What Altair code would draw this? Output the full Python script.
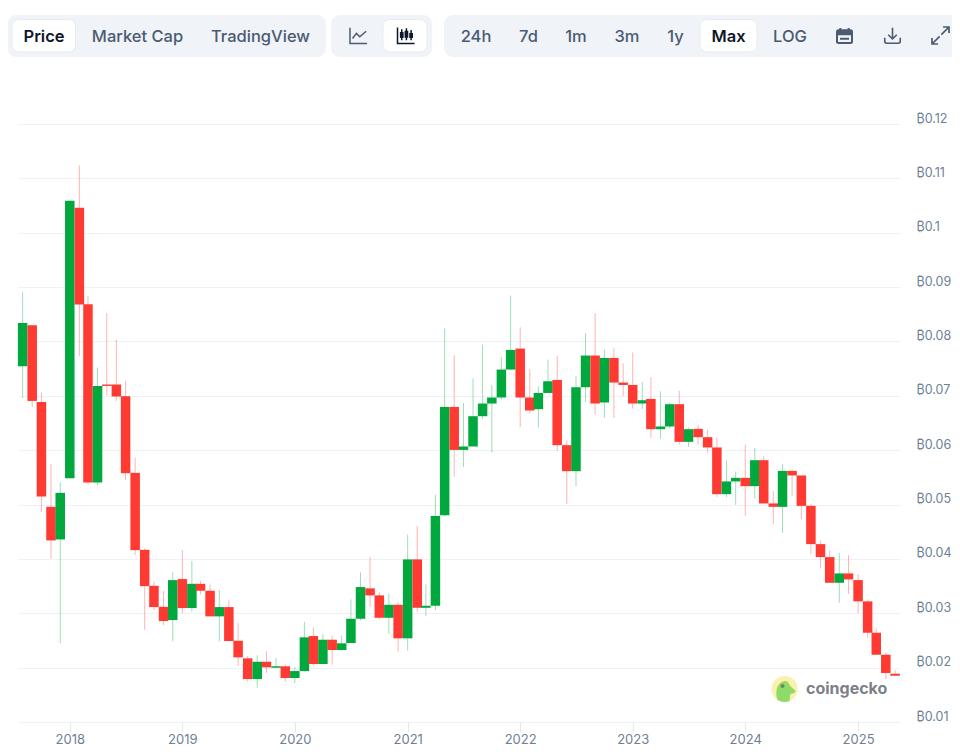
import altair as alt
import pandas as pd

months = pd.date_range("2017-08-01", periods=94, freq="MS").strftime("%Y-%m-%d").tolist()

open_ = [.07544,.08298,.06888,.04958,.04358,.05485,.10461,.08684,.05406,.07208,.07208,.06993,.05583,.04167,.03505,.03119,
         .02875,.03629,.03096,.03542,.03414,.02943,.03114,.02494,.02171,.01790,.02108,.01998,.02024,.01809,.01937,.02581,
         .02066,.02513,.02324,.02452,.02899,.03458,.03329,.02917,.03156,.02539,.03991,.03101,.03138,.04805,.06796,.06005,
         .06068,.06625,.06858,.06969,.07483,.07869,.06969,.06754,.07053,.07292,.06092,.05614,.07158,.07741,.06877,.07697,
         .07244,.07200,.06858,.06943,.06386,.06436,.06846,.06153,.06392,.06239,.06050,.05191,.05425,.05491,.05338,.05816,
         .05020,.04958,.05619,.05535,.04976,.04272,.04033,.03561,.03733,.03610,.03219,.02642,.02237,.01888]
high = [.08904,.08298,.07061,.05743,.05406,.10590,.11239,.08844,.07520,.08518,.08035,.07268,.05866,.04193,.03586,.03408,
        .03757,.04162,.03960,.03597,.03531,.03426,.03237,.02825,.02213,.02226,.02300,.02182,.02061,.02017,.02844,.02741,
        .02618,.02586,.02586,.03255,.03752,.04039,.03384,.03358,.03206,.04450,.04603,.03531,.05178,.08237,.07746,.06869,
        .07318,.07943,.07195,.07709,.08844,.08261,.07489,.07176,.07667,.07728,.06178,.07360,.08151,.08518,.07851,.07875,
        .07599,.07796,.07255,.07342,.07084,.06877,.07090,.06417,.06465,.06380,.06233,.05811,.05608,.06105,.06042,.05890,
        .05246,.05743,.05651,.05535,.05007,.04340,.04149,.04112,.04070,.03721,.03255,.02722,.02274,.01956]
low = [.06961,.06796,.04866,.04002,.02447,.05485,.07733,.05369,.05357,.07011,.06906,.05454,.04070,.02697,.03059,.02783,
       .02483,.02998,.03028,.03347,.02943,.02483,.02489,.02029,.01741,.01631,.01906,.01998,.01741,.01717,.01925,.02035,
       .02066,.02053,.02311,.02452,.02869,.03119,.02888,.02623,.02287,.02311,.03028,.02954,.03059,.04781,.05509,.05693,
       .06068,.06575,.05958,.06932,.07483,.06423,.06675,.06417,.07053,.05987,.05007,.05333,.06888,.06656,.06594,.06594,
       .06993,.06766,.06759,.06226,.06208,.06399,.06105,.06061,.06105,.05950,.05141,.05136,.04994,.04792,.05112,.05020,
       .04645,.04480,.05160,.04732,.04088,.03825,.03561,.03193,.03358,.02998,.02550,.02237,.01785,.01851]
close = [.08340,.06906,.05149,.04340,.05215,.10590,.08678,.05406,.07182,.07182,.06987,.05577,.04162,.03500,.03114,.02857,
         .03610,.03096,.03542,.03414,.02943,.03114,.02489,.02189,.01790,.02108,.02006,.02024,.01809,.01937,.02557,.02066,
         .02513,.02324,.02447,.02899,.03482,.03329,.02917,.03156,.02539,.03991,.03101,.03138,.04787,.06796,.06005,.06068,
         .06625,.06858,.06969,.07483,.07844,.06969,.06730,.07053,.07268,.06092,.05614,.07158,.07741,.06858,.07697,.07244,
         .07200,.06858,.06919,.06386,.06436,.06846,.06153,.06386,.06239,.06050,.05191,.05425,.05491,.05338,.05816,.05020,
         .04958,.05619,.05535,.04976,.04272,.04033,.03561,.03733,.03623,.03219,.02642,.02237,.01901,.01851]

price_ticks = [.01,.02,.03,.04,.05,.06,.07,.08,.09,.10,.11,.12]

GREEN, RED = "#00A83E", "#FF3A33"
GRID = "#EFF2F5"
SLATE = "#4B5B72"
DARK = "#0F172A"
AXIS_TXT = "#6E7F96"

df = pd.DataFrame({"month": months, "open": open_, "high": high, "low": low, "close": close})
df["dir"] = ["up" if c >= o else "down" for o, c in zip(open_, close)]

x_scale = alt.Scale(domain=["2017-07-17", "2025-05-17"], padding=0)
y_scale = alt.Scale(domain=[0.01, 0.12], nice=False, zero=False)
color = alt.Color("dir:N", scale=alt.Scale(domain=["up", "down"], range=[GREEN, RED]), legend=None)

x_axis = alt.Axis(format="%Y", tickCount="year", grid=False, domain=False, tickColor="#E3E7EC", tickSize=10,
                  labelColor=AXIS_TXT, labelFont="Inter", labelFontSize=13, labelPadding=1, title=None, labelFlush=False)
y_axis = alt.Axis(orient="right", values=price_ticks, grid=True, gridColor=GRID, gridWidth=1, domain=False, ticks=False,
                  labelColor=AXIS_TXT, labelFont="Inter", labelFontSize=12.5, labelPadding=16, labelOffset=-6, title=None,
                  labelExpr="'₿' + format(datum.value, '.2~f')")

base = alt.Chart(df)
wicks = base.mark_rule(strokeWidth=1, opacity=0.38).encode(
    x=alt.X("month:T", scale=x_scale, axis=x_axis),
    y=alt.Y("low:Q", scale=y_scale, axis=y_axis),
    y2="high:Q",
    color=color,
)
bodies = base.mark_bar(size=9.5, orient="vertical").encode(
    x=alt.X("month:T", scale=x_scale),
    y=alt.Y("open:Q", scale=y_scale),
    y2="close:Q",
    color=color,
)

one = pd.DataFrame({"a": [0]})
OX, OY = 18, 124  # page position of the plot origin


def rect(x0, x1, y0, y1, fill, radius=8, stroke=None):
    kw = {"stroke": stroke, "strokeWidth": 1} if stroke else {}
    return alt.Chart(one).mark_rect(fill=fill, cornerRadius=radius, **kw).encode(
        x=alt.value(x0 - OX), x2=alt.value(x1 - OX), y=alt.value(y0 - OY), y2=alt.value(y1 - OY))


def label(s, cx, cy, color=SLATE, size=16.5, weight=500, align="center"):
    return alt.Chart(one).mark_text(text=s, font="Inter", fontSize=size, fontWeight=weight, color=color,
                                    align=align, baseline="middle").encode(
        x=alt.value(cx - OX), y=alt.value(cy - OY))


def icon(path, cx, cy, size_px, stroke=SLATE, sw=1.5, fill=None):
    kw = {"filled": True, "fill": fill, "strokeWidth": 0} if fill else {"filled": False, "stroke": stroke, "strokeWidth": sw}
    return alt.Chart(one).mark_point(shape=path, size=size_px ** 2, opacity=1, **kw).encode(
        x=alt.value(cx - OX), y=alt.value(cy - OY))


LY = 36.7
chrome = [
    rect(7.5, 326, 15, 57, "#F0F3F8", 9),
    rect(331, 432, 15, 57, "#F0F3F8", 9),
    rect(444, 975, 15, 57, "#F0F3F8", 9),
    rect(12, 75.5, 19.5, 52, "#FFFFFF", 7, "#E8EBF0"),
    rect(383, 427, 19.5, 52, "#FFFFFF", 7, "#E8EBF0"),
    rect(700, 757, 19.5, 52, "#FFFFFF", 7, "#E8EBF0"),
    label("Price", 44, LY, DARK, 16.5, 600),
    label("Market Cap", 137.5, LY),
    label("TradingView", 260.5, LY),
    label("24h", 476, LY),
    label("7d", 528.5, LY),
    label("1m", 576, LY),
    label("3m", 627, LY),
    label("1y", 675.5, LY),
    label("Max", 728.5, LY, DARK, 16.5, 600),
    label("LOG", 790, LY),
    # line-chart icon
    icon("M-1,-0.9 L-1,0.95 L1,0.95 M-0.7,0.35 L-0.25,-0.25 L0.15,0.15 L0.9,-0.5", 358.5, 35.5, 17),
    # candle icon
    icon("M-1,-0.95 L-1,0.95 L1,0.95 M-0.5,-0.75 L-0.5,0.55 M0.05,-0.85 L0.05,0.55 M0.6,-0.65 L0.6,0.55",
         406, 35.5, 17, stroke=DARK),
    icon("M-0.72,-0.4 H-0.28 V0.3 H-0.72 Z M-0.17,-0.55 H0.27 V0.25 H-0.17 Z M0.38,-0.3 H0.82 V0.3 H0.38 Z",
         406, 35.5, 17, fill=DARK),
    # calendar icon
    icon("M-0.8,-0.7 H0.8 Q1,-0.7 1,-0.5 V0.8 Q1,1 0.8,1 H-0.8 Q-1,1 -1,0.8 V-0.5 Q-1,-0.7 -0.8,-0.7 Z "
         "M-0.55,-1 V-0.7 M0.55,-1 V-0.7", 844.5, 35.5, 15, sw=2),
    icon("M-1,-0.7 H1 V-0.05 H-1 Z M-0.6,0.3 H0.6 V0.55 H-0.6 Z", 844.5, 35.5, 15, fill=SLATE),
    # download icon
    icon("M0,-1 V0.4 M-0.55,-0.1 L0,0.45 L0.55,-0.1 M-1,0.3 V0.75 Q-1,1 -0.75,1 H0.75 Q1,1 1,0.75 V0.3",
         892.5, 35.5, 15.5, sw=1.6),
    # expand icon
    icon("M0.1,-0.1 L1,-1 M0.3,-1 H1 V-0.3 M-0.1,0.1 L-1,1 M-1,0.3 V1 H-0.3", 940.5, 35.5, 17, sw=1.7),
]

logo = [
    alt.Chart(one).mark_point(shape="circle", size=26 ** 2, filled=True, fill="#FBF0AE", strokeWidth=0, opacity=1).encode(
        x=alt.value(784.7 - OX), y=alt.value(689 - OY)),
    icon("M-0.55,0.85 C-0.75,0.3 -0.65,-0.3 -0.2,-0.55 C0.1,-0.7 0.3,-0.55 0.4,-0.25 L0.85,0.15 "
         "C0.8,0.3 0.6,0.4 0.45,0.35 C0.4,0.6 0.4,0.8 0.35,0.95 C0,1.05 -0.3,1 -0.55,0.85 Z",
         784.7, 689, 26, fill="#8FDB68"),
    alt.Chart(one).mark_point(shape="circle", size=16, filled=True, fill="#6F8A5A", strokeWidth=0, opacity=1).encode(
        x=alt.value(782.5 - OX), y=alt.value(686 - OY)),
    label("coingecko", 806, 688.5, "#7C8088", 16, 700, "left"),
]

chart = alt.layer(wicks, bodies, *logo, *chrome).properties(
    width=882, height=598,
    autosize=alt.AutoSizeParams(type="none"),
    padding={"left": 10, "top": 116, "right": 52, "bottom": 24},
    background="#FFFFFF",
).configure_view(stroke=None)

chart.save("out.html", embed_options={"renderer": "svg", "actions": False})
